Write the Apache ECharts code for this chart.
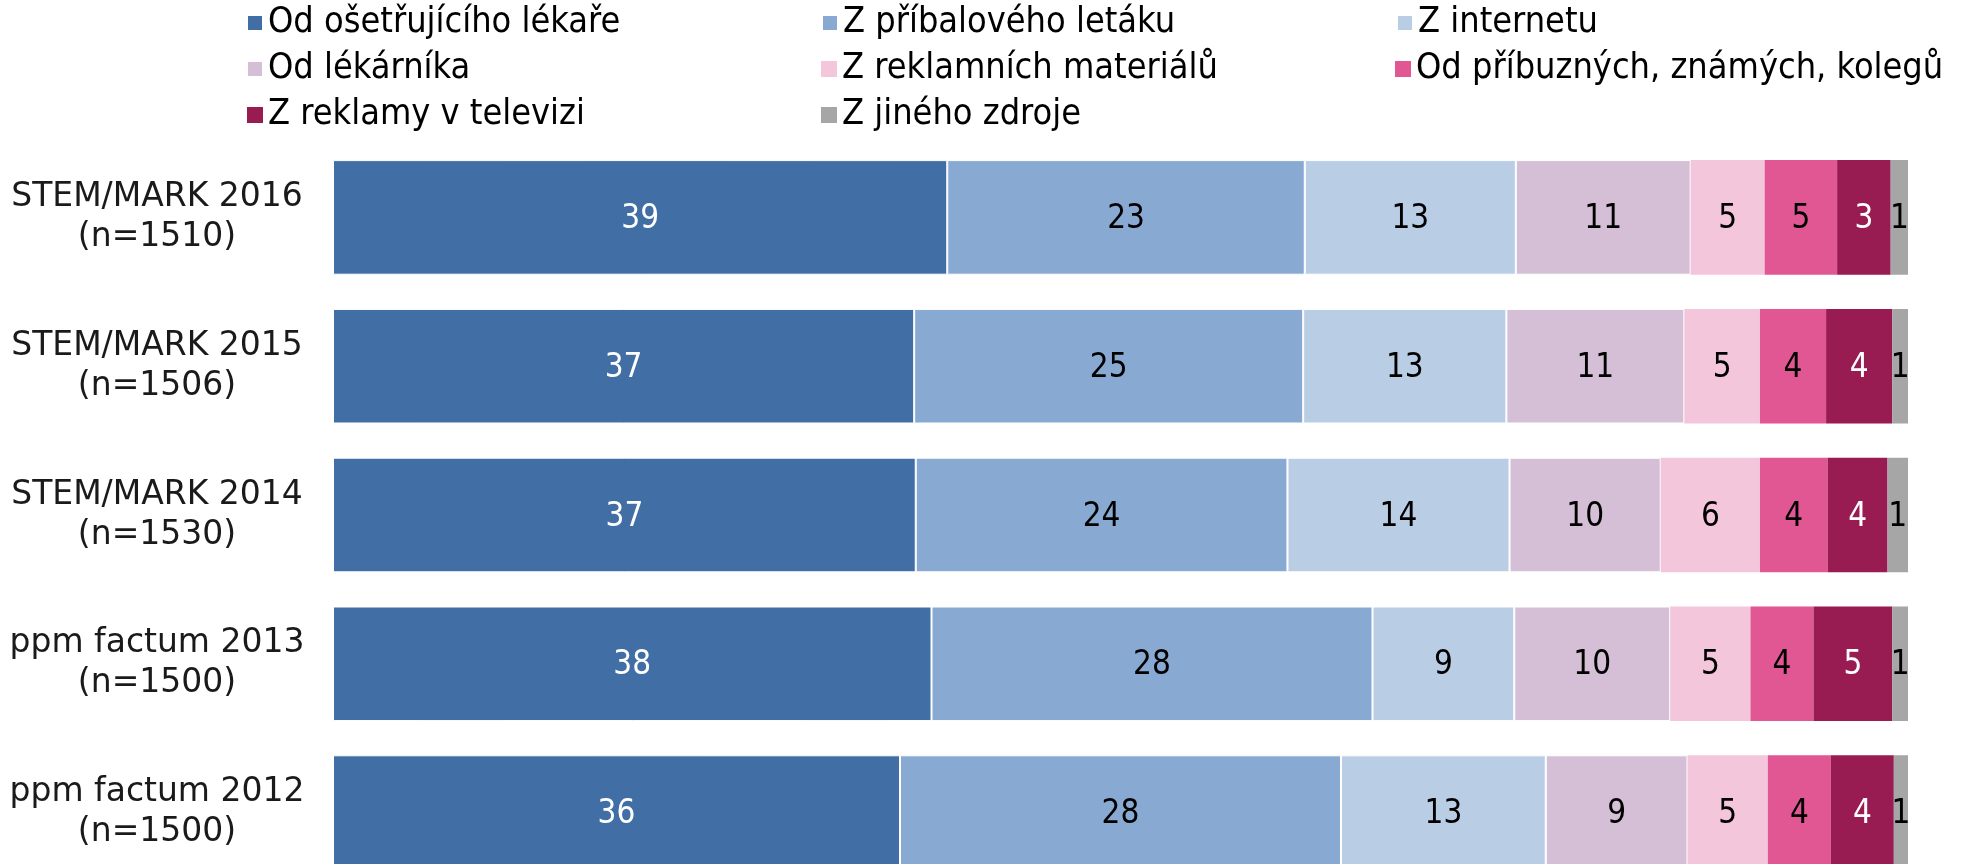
<!DOCTYPE html>
<html>
<head>
<meta charset="utf-8">
<script src="https://cdn.jsdelivr.net/npm/echarts@6/dist/echarts.min.js"></script>
<style>
  html, body { margin: 0; padding: 0; background: #fff; overflow: hidden; }
  #chart { width: 1961px; height: 900px; }
</style>
</head>
<body>
<div id="chart"></div>
<script>
// kategorie (shora dolů)
const categories = [
  'STEM/MARK 2016\n(n=1510)',
  'STEM/MARK 2015\n(n=1506)',
  'STEM/MARK 2014\n(n=1530)',
  'ppm factum 2013\n(n=1500)',
  'ppm factum 2012\n(n=1500)'
]
const seriesNames = [
  'Od ošetřujícího lékaře', 'Z příbalového letáku', 'Z internetu',
  'Od lékárníka', 'Z reklamních materiálů', 'Od příbuzných, známých, kolegů',
  'Z reklamy v televizi', 'Z jiného zdroje'
]
// hodnoty v % (odhad z šířky úseků)
const odLekare      = [39.0, 36.9, 37.0, 38.0, 36.0]
const zPribaloveho  = [22.7, 24.7, 23.6, 28.0, 28.0]
const zInternetu    = [13.4, 12.9, 14.1,  9.0, 13.0]
const odLekarnika   = [11.1, 11.3,  9.6,  9.9,  9.0]
const zReklamnich   = [ 4.7,  4.8,  6.3,  5.1,  5.1]
const odPribuznych  = [ 4.6,  4.2,  4.3,  4.0,  4.0]
const zTelevize     = [ 3.4,  4.2,  3.8,  5.0,  4.0]
const zJineho       = [ 1.1,  1.0,  1.3,  1.0,  0.9]

const values = [odLekare, zPribaloveho, zInternetu, odLekarnika, zReklamnich, odPribuznych, zTelevize, zJineho]
const colors = ['#416ea5', '#88a9d2', '#b9cde5', '#d4bfd6', '#f4c6dc', '#e05794', '#981b52', '#a6a6a6']
const labelColors = ['#fff', '#000', '#000', '#000', '#000', '#000', '#fff', '#000']

const chart = echarts.init(document.getElementById('chart'))

const series = seriesNames.map((name, i) => ({
  name: name,
  type: 'bar',
  stack: 'total',
  barCategoryGap: '23%',
  data: values[i],
  itemStyle: {
    color: colors[i],
    borderColor: '#fff',
    borderWidth: i < 4 ? 1 : 0
  },
  label: {
    show: true,
    position: 'inside',
    offset: [0, 2],
    color: labelColors[i],
    fontFamily: 'DejaVu Sans Condensed',
    fontSize: 33,
    formatter: p => Math.round(p.value)
  }
}))

chart.setOption({
  animation: false,
  color: colors,
  legend: {
    left: 241,
    top: 0,
    width: 1720,
    itemWidth: 16,
    itemHeight: 16,
    itemGap: 10,
    icon: 'rect',
    textStyle: {
      fontFamily: 'DejaVu Sans Condensed',
      fontSize: 35.8,
      color: '#000',
      width: 543,
      lineHeight: 35
    },
    data: seriesNames
  },
  grid: {
    left: 333,
    right: 53,
    top: 143,
    bottom: 13
  },
  xAxis: {
    type: 'value',
    min: 0,
    max: 100,
    show: false
  },
  yAxis: {
    type: 'category',
    inverse: true,
    data: categories,
    axisLine: { show: false },
    axisTick: { show: false },
    axisLabel: {
      align: 'center',
      margin: 176,
      fontFamily: 'DejaVu Sans',
      fontSize: 33,
      lineHeight: 40,
      color: '#1a1a1a'
    }
  },
  series: series
})
</script>
</body>
</html>
